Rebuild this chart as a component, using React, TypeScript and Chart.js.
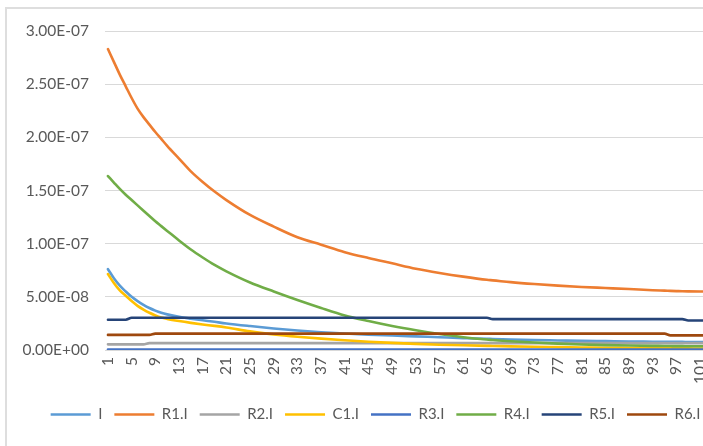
import { useEffect, useRef } from 'react';
import { Chart, registerables } from 'chart.js';

Chart.register(...registerables);

// Values are stored in units of 1e-8 A.
const UNIT = 1e-8;

// Sample positions (step index) shared by every series.
const steps = [1, 2, 3, 4, 5, 6, 7, 8, 9, 10, 11, 13, 15, 17, 19, 21, 25, 29, 33, 37, 41, 45, 49, 53, 57, 61, 65, 66, 69, 73, 77, 81, 85, 89, 93, 95, 96, 97, 98, 99, 101, 102];

// Category labels shown along the x axis.
const tickLabels = [1, 5, 9, 13, 17, 21, 25, 29, 33, 37, 41, 45, 49, 53, 57, 61, 65, 69, 73, 77, 81, 85, 89, 93, 97, 101];

const seriesNames = ['I', 'R1.I', 'R2.I', 'C1.I', 'R3.I', 'R4.I', 'R5.I', 'R6.I'];
const seriesColors = ['#5B9BD5', '#ED7D31', '#A5A5A5', '#FFC000', '#4472C4', '#70AD47', '#264478', '#9E480E'];

const I = [7.6, 6.75, 6.05, 5.5, 5.0, 4.6, 4.25, 3.95, 3.7, 3.5, 3.35, 3.12, 2.95, 2.8, 2.65, 2.5, 2.25, 2.02, 1.83, 1.67, 1.55, 1.45, 1.36, 1.28, 1.2, 1.12, 1.05, 1.04, 0.99, 0.94, 0.9, 0.86, 0.83, 0.8, 0.78, 0.77, 0.77, 0.76, 0.76, 0.75, 0.75, 0.75];
const R1 = [28.3, 27.1, 25.9, 24.8, 23.7, 22.7, 21.9, 21.2, 20.5, 19.85, 19.2, 18.0, 16.8, 15.8, 14.9, 14.1, 12.7, 11.6, 10.6, 9.9, 9.2, 8.65, 8.15, 7.65, 7.25, 6.9, 6.6, 6.55, 6.38, 6.2, 6.05, 5.93, 5.83, 5.73, 5.62, 5.58, 5.56, 5.54, 5.52, 5.51, 5.5, 5.5];
const R2 = [0.53, 0.53, 0.53, 0.53, 0.53, 0.53, 0.53, 0.65, 0.65, 0.65, 0.65, 0.65, 0.65, 0.65, 0.65, 0.65, 0.65, 0.65, 0.65, 0.65, 0.65, 0.65, 0.65, 0.65, 0.65, 0.65, 0.65, 0.65, 0.65, 0.65, 0.65, 0.65, 0.65, 0.65, 0.65, 0.65, 0.65, 0.65, 0.65, 0.65, 0.65, 0.65];
const C1 = [7.14, 6.3, 5.6, 5.1, 4.6, 4.15, 3.8, 3.5, 3.25, 3.05, 2.92, 2.72, 2.55, 2.4, 2.27, 2.12, 1.75, 1.47, 1.25, 1.07, 0.92, 0.78, 0.67, 0.58, 0.5, 0.44, 0.39, 0.38, 0.34, 0.3, 0.27, 0.24, 0.21, 0.19, 0.17, 0.16, 0.16, 0.16, 0.15, 0.15, 0.14, 0.14];
const R3 = [0.05, 0.05, 0.05, 0.05, 0.05, 0.05, 0.05, 0.05, 0.05, 0.05, 0.05, 0.05, 0.05, 0.05, 0.05, 0.05, 0.05, 0.05, 0.05, 0.05, 0.05, 0.05, 0.05, 0.05, 0.05, 0.05, 0.05, 0.05, 0.05, 0.05, 0.05, 0.05, 0.05, 0.05, 0.05, 0.05, 0.05, 0.05, 0.05, 0.05, 0.05, 0.05];
const R4 = [16.36, 15.75, 15.15, 14.6, 14.1, 13.6, 13.1, 12.6, 12.1, 11.65, 11.2, 10.3, 9.45, 8.7, 8.0, 7.4, 6.35, 5.5, 4.7, 3.95, 3.25, 2.72, 2.25, 1.85, 1.5, 1.2, 0.98, 0.94, 0.82, 0.7, 0.6, 0.52, 0.46, 0.42, 0.39, 0.38, 0.37, 0.36, 0.36, 0.35, 0.35, 0.35];
const R5 = [2.85, 2.85, 2.85, 2.85, 3.03, 3.03, 3.03, 3.03, 3.03, 3.03, 3.03, 3.03, 3.03, 3.03, 3.03, 3.03, 3.03, 3.03, 3.03, 3.03, 3.03, 3.03, 3.03, 3.03, 3.03, 3.03, 3.03, 2.9, 2.9, 2.9, 2.9, 2.9, 2.9, 2.9, 2.9, 2.9, 2.9, 2.9, 2.9, 2.78, 2.78, 2.78];
const R6 = [1.42, 1.42, 1.42, 1.42, 1.42, 1.42, 1.42, 1.42, 1.54, 1.54, 1.54, 1.54, 1.54, 1.54, 1.54, 1.54, 1.54, 1.54, 1.54, 1.54, 1.54, 1.54, 1.54, 1.54, 1.54, 1.54, 1.54, 1.54, 1.54, 1.54, 1.54, 1.54, 1.54, 1.54, 1.54, 1.54, 1.38, 1.38, 1.38, 1.38, 1.38, 1.38];

const seriesValues = [I, R1, R2, C1, R3, R4, R5, R6];

const FONT_FAMILY = 'Lato, "Open Sans", sans-serif';
const TEXT_COLOR = '#595959';
const GRID_COLOR = '#D9D9D9';

// Excel-style scientific notation, e.g. 2.50E-07
function sci(v: number): string {
  if (Math.abs(v) < 1e-20) return '0.00E+00';
  const [m, e] = v.toExponential(2).split('e');
  const n = parseInt(e, 10);
  return m + 'E' + (n < 0 ? '-' : '+') + String(Math.abs(n)).padStart(2, '0');
}

// The legend row is centred on the full chart frame, which is wider than the
// visible canvas; nudge it to the right after layout.
const legendShift = {
  id: 'legendShift',
  afterLayout(chart: any) {
    const lg = chart.legend;
    if (!lg) return;
    lg.left += 19;
    lg.right += 19;
  },
};

export default function App() {
  const canvasRef = useRef<HTMLCanvasElement | null>(null);

  useEffect(() => {
    const canvas = canvasRef.current;
    if (!canvas) return;

    const datasets = seriesNames.map((name, i) => ({
      label: name,
      data: steps.map((s, k) => ({ x: s, y: seriesValues[i][k] * UNIT })),
      borderColor: seriesColors[i],
      backgroundColor: seriesColors[i],
      borderWidth: 2.6,
      borderCapStyle: 'round' as const,
      borderJoinStyle: 'round' as const,
      pointRadius: 0,
      pointHoverRadius: 0,
      cubicInterpolationMode: 'monotone' as const,
      fill: false,
      order: seriesNames.length - i,
    }));

    const chart = new Chart(canvas, {
      type: 'line',
      data: { datasets },
      plugins: [legendShift],
      options: {
        animation: false,
        responsive: false,
        devicePixelRatio: 1,
        layout: { padding: { left: 10, right: 0, top: 31, bottom: 14 } },
        plugins: {
          tooltip: { enabled: false },
          legend: {
            position: 'bottom',
            labels: {
              usePointStyle: true,
              pointStyle: 'line',
              pointStyleWidth: 40,
              boxHeight: 15,
              padding: 12,
              color: TEXT_COLOR,
              font: { family: FONT_FAMILY, size: 15 },
              sort: (a: any, b: any) => a.datasetIndex - b.datasetIndex,
            },
          },
        },
        scales: {
          x: {
            type: 'linear',
            min: 0.5,
            max: 101.5,
            grid: { display: false, drawTicks: false },
            border: { display: true, color: GRID_COLOR, width: 1 },
            ticks: {
              autoSkip: false,
              minRotation: 90,
              maxRotation: 90,
              padding: 7,
              color: TEXT_COLOR,
              font: { family: FONT_FAMILY, size: 15.5 },
              callback: (v: any) => String(v),
            },
            afterBuildTicks: (scale: any) => {
              scale.ticks = tickLabels.map((v) => ({ value: v }));
            },
            afterFit: (scale: any) => {
              scale.height = 45;
              scale.paddingLeft = 0;
              scale.paddingRight = 0;
            },
          },
          y: {
            type: 'linear',
            min: 0,
            max: 3e-7,
            grid: { color: GRID_COLOR, lineWidth: 1, drawTicks: false },
            border: { display: false },
            ticks: {
              stepSize: 5e-8,
              padding: 16,
              color: TEXT_COLOR,
              font: { family: FONT_FAMILY, size: 15.5 },
              callback: (v: any) => sci(Number(v)),
            },
            afterFit: (scale: any) => {
              scale.width = 95;
              scale.paddingTop = 0;
              scale.paddingBottom = 0;
            },
          },
        },
      },
    });

    return () => chart.destroy();
  }, []);

  return (
    <div
      style={{
        position: 'absolute',
        left: 0,
        top: 0,
        width: 703,
        height: 446,
        overflow: 'hidden',
        background: '#FFFFFF',
      }}
    >
      <div
        style={{
          position: 'absolute',
          left: 5,
          top: 7,
          width: 780,
          height: 500,
          border: '2px solid #DEDEDE',
          boxSizing: 'border-box',
        }}
      />
      <canvas
        ref={canvasRef}
        width={703}
        height={446}
        style={{ position: 'absolute', left: 0, top: 0, width: 703, height: 446 }}
      />
    </div>
  );
}
